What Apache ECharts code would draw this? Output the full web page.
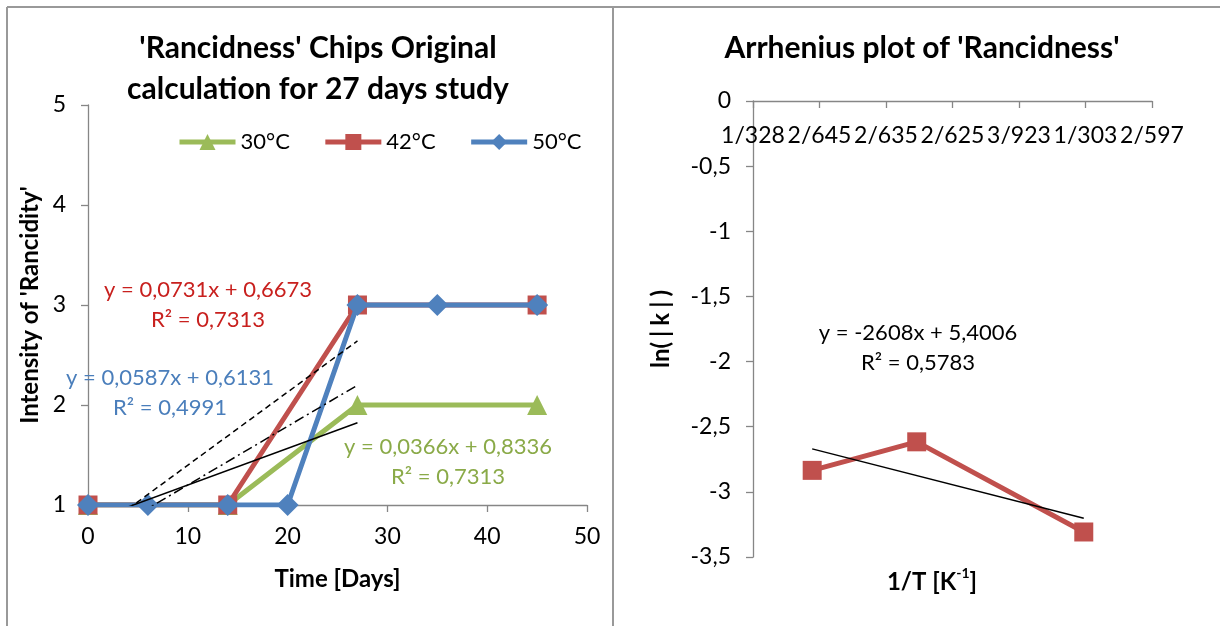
<!DOCTYPE html>
<html><head><meta charset="utf-8">
<script src="https://cdn.jsdelivr.net/npm/echarts@6/dist/echarts.min.js"></script>
<style>html,body{margin:0;padding:0;background:#fff}#c{width:1220px;height:626px}</style>
</head><body><div id="c"></div>
<script>
// ---- data ----
const seriesNames = ['30°C', '42°C', '50°C'];
const days30 = [0, 14, 27, 45];
const vals30 = [1, 1, 2, 2];
const days42 = [0, 14, 27, 45];
const vals42 = [1, 1, 3, 3];
const days50 = [0, 6, 14, 20, 27, 35, 45];
const vals50 = [1, 1, 1, 1, 3, 3, 3];
// trendline end points (from the fitted equations, x = 0 and x = 27)
const trendX = [0, 27];
const trend30 = [0.8336, 1.8218];
const trend42 = [0.6673, 2.6410];
const trend50 = [0.6131, 2.1980];
const eq30 = ['y = 0,0366x + 0,8336', 'R² = 0,7313'];
const eq42 = ['y = 0,0731x + 0,6673', 'R² = 0,7313'];
const eq50 = ['y = 0,0587x + 0,6131', 'R² = 0,4991'];
// Arrhenius
const invT = [0.0030945, 0.0031731, 0.0032987];
const lnK = [-2.835, -2.616, -3.308];
const arrTrendX = [0.0030945, 0.0032987];
const arrTrendY = [-2.670, -3.202];
const eqArr = ['y = -2608x + 5,4006', 'R² = 0,5783'];
const invTTickLabels = ['1/328', '2/645', '2/635', '2/625', '3/923', '1/303', '2/597'];

const F = 'Lato, "Open Sans", sans-serif';
const GREEN = '#9BBB59', RED = '#C0504D', BLUE = '#4F81BD';
const AX = '#868686';
const zip = (a, b) => a.map((v, i) => [v, b[i]]);

const chart = echarts.init(document.getElementById('c'), null, {renderer: 'canvas'});

const axisCommon = {
  axisLine: {show: true, onZero: false, lineStyle: {color: AX, width: 1.3}},
  axisTick: {show: true, length: 7, lineStyle: {color: AX, width: 1.3}},
  splitLine: {show: false}
};
const LBL = 23;

function eqText(lines, x, y, color) {
  return lines.map((t, i) => ({
    type: 'text', x: x, y: y + i * 30, z: 100,
    style: {text: t, fill: color, font: '22px ' + F, align: 'center', verticalAlign: 'middle'}
  }));
}

const option = {
  animation: false,
  backgroundColor: '#fff',
  title: [
    {text: "'Rancidness' Chips Original\ncalculation for 27 days study", left: 313, top: 23, textAlign: 'center',
     textStyle: {fontFamily: F, fontWeight: 'bold', fontSize: 30, lineHeight: 41, color: '#000'}},
    {text: "Arrhenius plot of 'Rancidness'", left: 917, top: 28, textAlign: 'center',
     textStyle: {fontFamily: F, fontWeight: 'bold', fontSize: 30, color: '#000'}}
  ],
  legend: {
    data: seriesNames, left: 172, top: 126, itemWidth: 56, itemHeight: 20, itemGap: 33,
    lineStyle: {width: 5},
    textStyle: {fontFamily: F, fontSize: 22, color: '#000'}
  },
  grid: [
    {left: 88, top: 105, width: 499, height: 400},
    {left: 753, top: 101, width: 399, height: 456}
  ],
  xAxis: [
    Object.assign({}, axisCommon, {type: 'value', gridIndex: 0, min: 0, max: 50, interval: 10,
      name: 'Time [Days]', nameLocation: 'middle', nameGap: 62,
      nameTextStyle: {fontFamily: F, fontWeight: 'bold', fontSize: 24, color: '#000'},
      axisLabel: {color: '#000', fontFamily: F, fontSize: LBL, margin: 20}}),
    Object.assign({}, axisCommon, {type: 'value', gridIndex: 1, position: 'top',
      min: 0.00305, max: 0.00335, interval: 0.00005,
      axisTick: {show: true, inside: true, length: 7, lineStyle: {color: AX, width: 1.3}},
      axisLabel: {inside: true, color: '#000', fontFamily: F, fontSize: LBL, margin: 23,
        formatter: v => invTTickLabels[Math.round((v - 0.00305) / 0.00005)] || ''}})
  ],
  yAxis: [
    Object.assign({}, axisCommon, {type: 'value', gridIndex: 0, min: 1, max: 5, interval: 1,
      name: "Intensity of 'Rancidity'", nameLocation: 'middle', nameGap: 46,
      nameTextStyle: {fontFamily: F, fontWeight: 'bold', fontSize: 24, color: '#000'},
      axisLabel: {color: '#000', fontFamily: F, fontSize: LBL, margin: 22}}),
    Object.assign({}, axisCommon, {type: 'value', gridIndex: 1, min: -3.5, max: 0, interval: 0.5,
      name: '{a|ln(}{p||}{a|k}{p||}{a|)}', nameLocation: 'middle', nameGap: 80,
      nameTextStyle: {fontFamily: F, fontWeight: 'bold', fontSize: 24, color: '#000',
        rich: {a: {fontFamily: F, fontWeight: 'bold', fontSize: 24, color: '#000'},
               p: {fontFamily: F, fontWeight: 'bold', fontSize: 24, color: '#000', padding: [0, 5, 0, 5]}}},
      axisLabel: {color: '#000', fontFamily: F, fontSize: LBL, margin: 22,
        formatter: v => String(v).replace('.', ',')}})
  ],
  series: [
    {name: seriesNames[0], type: 'line', xAxisIndex: 0, yAxisIndex: 0, data: zip(days30, vals30),
     symbol: 'triangle', symbolSize: 20, color: GREEN, lineStyle: {width: 5, color: GREEN},
     itemStyle: {color: GREEN}, z: 2},
    {name: seriesNames[1], type: 'line', xAxisIndex: 0, yAxisIndex: 0, data: zip(days42, vals42),
     symbol: 'rect', symbolSize: 19, color: RED, lineStyle: {width: 5, color: RED},
     itemStyle: {color: RED}, z: 3},
    {name: seriesNames[2], type: 'line', xAxisIndex: 0, yAxisIndex: 0, data: zip(days50, vals50),
     symbol: 'diamond', symbolSize: 22, color: BLUE, lineStyle: {width: 5, color: BLUE},
     itemStyle: {color: BLUE}, z: 4},
    {name: 'trend30', type: 'line', xAxisIndex: 0, yAxisIndex: 0, data: zip(trendX, trend30), clip: true,
     symbol: 'none', lineStyle: {width: 1.5, color: '#000', type: 'solid'}, z: 5, silent: true},
    {name: 'trend42', type: 'line', xAxisIndex: 0, yAxisIndex: 0, data: zip(trendX, trend42), clip: true,
     symbol: 'none', lineStyle: {width: 1.5, color: '#000', type: [6, 4]}, z: 5, silent: true},
    {name: 'trend50', type: 'line', xAxisIndex: 0, yAxisIndex: 0, data: zip(trendX, trend50), clip: true,
     symbol: 'none', lineStyle: {width: 1.5, color: '#000', type: [10, 4, 2, 4]}, z: 5, silent: true},
    {name: 'lnk', type: 'line', xAxisIndex: 1, yAxisIndex: 1, data: zip(invT, lnK),
     symbol: 'rect', symbolSize: 19, color: RED, lineStyle: {width: 5, color: RED}, itemStyle: {color: RED}, z: 3},
    {name: 'arrTrend', type: 'line', xAxisIndex: 1, yAxisIndex: 1, data: zip(arrTrendX, arrTrendY),
     symbol: 'none', lineStyle: {width: 1.5, color: '#000'}, z: 5, silent: true}
  ],
  graphic: [
    {type: 'line', shape: {x1: 7, y1: 7, x2: 1220, y2: 7}, style: {stroke: '#999', lineWidth: 2}},
    {type: 'line', shape: {x1: 7, y1: 7, x2: 7, y2: 626}, style: {stroke: '#999', lineWidth: 2}},
    {type: 'line', shape: {x1: 613, y1: 7, x2: 613, y2: 626}, style: {stroke: '#999', lineWidth: 2}},
    ...eqText(eq42, 208, 290, '#C8201E'),
    ...eqText(eq50, 170, 378, '#4A7EBB'),
    ...eqText(eq30, 448, 447, '#8AAA48'),
    ...eqText(eqArr, 918, 333, '#000'),
    {type: 'text', x: 932, y: 580, z: 100,
     style: {text: '{b|1/T [K}{s|-1}{b|]}', align: 'center', verticalAlign: 'middle',
       rich: {b: {fontFamily: F, fontWeight: 'bold', fontSize: 24, lineHeight: 28, verticalAlign: 'bottom'},
              s: {fontFamily: F, fontWeight: 'bold', fontSize: 14, lineHeight: 28, verticalAlign: 'top', padding: [0, 0, 8, 0]}}}}
  ]
};
chart.setOption(option);
</script></body></html>
